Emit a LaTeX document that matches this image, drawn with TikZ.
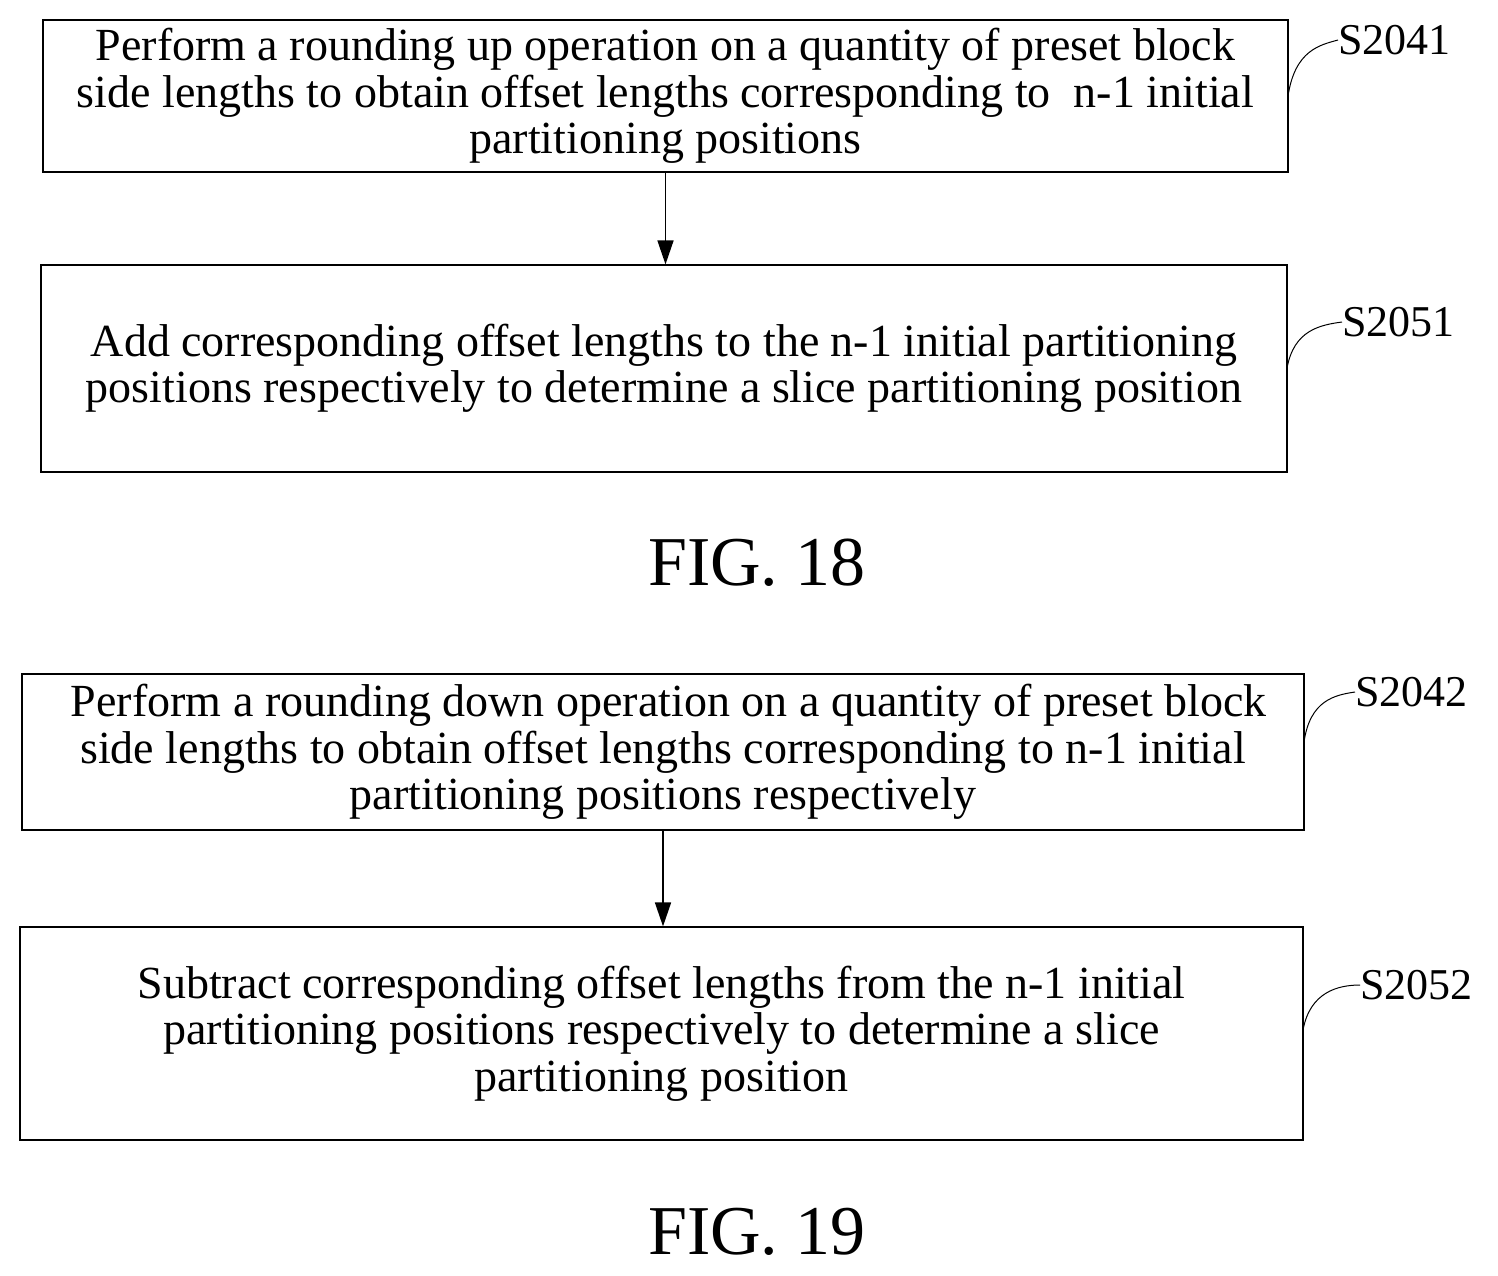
\documentclass[tikz,border=0pt]{standalone}
\usepackage{fontspec}
\setmainfont{Liberation Serif}
\usetikzlibrary{arrows.meta}
\begin{document}
\begin{tikzpicture}[x=0.5pt,y=-0.5pt,
 box/.style={draw,line width=0.6pt,inner sep=0pt,align=center,font=\fontsize{23}{23.2}\selectfont},
 lbl/.style={font=\fontsize{22}{24}\selectfont,anchor=west,inner sep=0pt},
 fig/.style={font=\fontsize{35}{40}\selectfont},
 arr/.style={-{Triangle[length=12pt,width=8pt]},line width=0.8pt},
 wave/.style={line width=0.5pt}]
\useasboundingbox (0,0) rectangle (1498,1275);
\node[box,minimum width=622.5pt,minimum height=76pt] (b1) at (665.5,96) {Perform a rounding up operation on a quantity of preset block\\side lengths to obtain offset lengths corresponding to \ n-1 initial\\partitioning positions};
\node[box,minimum width=623pt,minimum height=103.5pt] (b2) at (664,368.5) {Add corresponding offset lengths to the n-1 initial partitioning\\positions respectively to determine a slice partitioning position};
\node[fig] (f18) at (757,563) {FIG. 18};
\node[box,minimum width=641pt,minimum height=78pt] (b3) at (663,752) {\ Perform a rounding down operation on a quantity of preset block\\side lengths to obtain offset lengths corresponding to n-1 initial\\partitioning positions respectively};
\node[box,minimum width=641.5pt,minimum height=106.5pt] (b4) at (661.5,1033.5) {Subtract corresponding offset lengths from the n-1 initial\\partitioning positions respectively to determine a slice\\partitioning position};
\node[fig] (f19) at (757,1232) {FIG. 19};
\draw[arr] (b1.south) -- (b1.south |- b2.north);
\draw[arr] (b3.south) -- (b3.south |- b4.north);
\node[lbl] (s1) at (1338,40) {S2041};
\node[lbl] (s2) at (1342,322) {S2051};
\node[lbl] (s3) at (1355,692) {S2042};
\node[lbl] (s4) at (1360,985) {S2052};
\coordinate (w1) at (1288,96);
\coordinate (w2) at (1287,368);
\coordinate (w3) at (1304,742);
\coordinate (w4) at (1303,1030);
\draw[wave] (w1) .. controls (1295,50) and (1320,45) .. (s1.west);
\draw[wave] (w2) .. controls (1294,330) and (1320,325) .. (s2.west);
\draw[wave] (w3) .. controls (1310,700) and (1335,695) .. (s3.west);
\draw[wave] (w4) .. controls (1310,992) and (1338,985) .. (s4.west);
\end{tikzpicture}
\end{document}
